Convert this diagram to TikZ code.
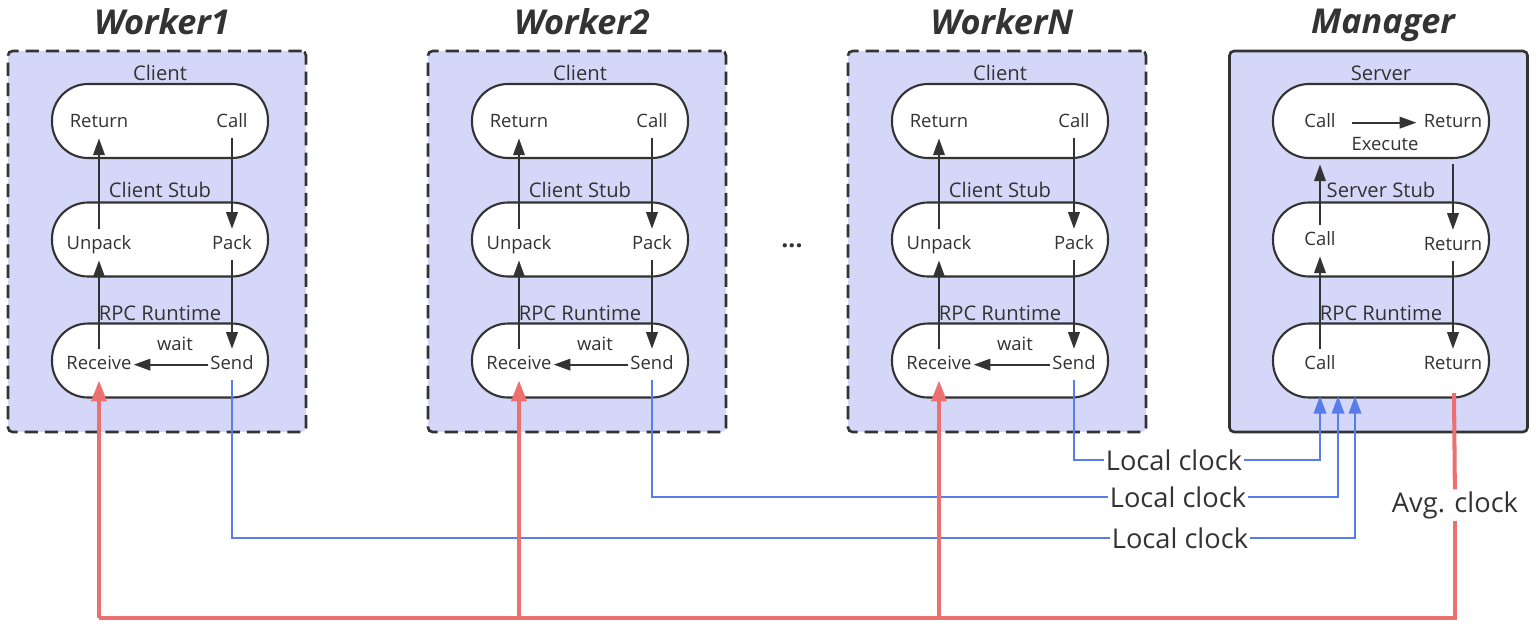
\documentclass[tikz,border=0pt]{standalone}
\usepackage{fontspec}
\setmainfont{Open Sans}
\usepackage{tikz}
\usetikzlibrary{calc}
\usetikzlibrary{arrows.meta}
\usetikzlibrary{positioning}
\definecolor{panelfill}{RGB}{212,215,248}
\definecolor{ink}{RGB}{51,51,51}
\definecolor{clkblue}{RGB}{88,124,234}
\definecolor{clkred}{RGB}{236,112,112}
\tikzset{inv/.style={opacity=0}}

\begin{document}
\begin{tikzpicture}[x=0.02cm, y=-0.02cm]
\tikzstyle{flow} = [-{Triangle[length=9.5pt,width=6.5pt]}, ink, line width=1.2pt]
\tikzstyle{bluel} = [clkblue, line width=1.5pt]
\tikzstyle{bluearr} = [bluel, -{Triangle[length=10pt,width=7pt]}]
\tikzstyle{redl} = [clkred, line width=2.3pt]
\tikzstyle{redarr} = [redl, -{Triangle[length=12pt,width=8.5pt]}]
\useasboundingbox (0,0) rectangle (1536,630);

\tikzset{panel/.style={draw=ink, line width=1.5pt, fill=panelfill, rounded corners=2.5pt, minimum width=5.96cm, minimum height=7.62cm}}
\tikzset{dpanel/.style={panel, dash pattern=on 7.5pt off 4pt}}
\tikzset{capsule/.style={draw=ink, line width=1.2pt, fill=white, rounded corners=0.72cm, minimum width=4.32cm, minimum height=1.48cm}}
\tikzset{item/.style={text=ink, font=\fontsize{10.5}{12}\selectfont, text height=7.5pt, text depth=2pt, inner xsep=1pt, inner ysep=4pt, yshift=-1.5pt}}
\tikzset{grp/.style={text=ink, font=\fontsize{11.5}{13}\selectfont, inner sep=1pt}}
\tikzset{ttl/.style={text=ink, font=\fontsize{19.5}{22}\selectfont\bfseries\itshape}}
\tikzset{clk/.style={text=ink, font=\fontsize{15.5}{18}\selectfont, fill=white, inner sep=1pt}}

\node[ttl] (t1) at (162,22) {Worker1};
\node[dpanel] (p1) at (157,241.5) {};
\node[capsule] (w1cl) at (160,121) {};
\node[capsule] (w1st) at (160,239.5) {};
\node[capsule] (w1rt) at (160,360.5) {};
\node[grp] at (160,73) {Client};
\node[grp] at (160,190) {Client Stub};
\node[grp] at (160,313) {RPC Runtime};
\node[item] (w1ret) at (99,120) {Return};
\node[item] (w1call) at (232,120) {Call};
\node[item] (w1unp) at (99,242) {Unpack};
\node[item] (w1pack) at (232,242) {Pack};
\node[item] (w1recv) at (99,362) {Receive};
\node[item] (w1send) at (232,362) {Send};
\node[item] at (175,343) {wait};
\draw[flow] (w1call) -- (w1pack);
\draw[flow] (w1pack) -- (w1send);
\draw[flow] (w1unp) -- (w1ret);
\draw[flow] (w1recv) -- (w1unp);
\draw[flow] (w1send) -- (w1recv);

\node[ttl] (t2) at (582,22) {Worker2};
\node[dpanel] (p2) at (577,241.5) {};
\node[capsule] (w2cl) at (580,121) {};
\node[capsule] (w2st) at (580,239.5) {};
\node[capsule] (w2rt) at (580,360.5) {};
\node[grp] at (580,73) {Client};
\node[grp] at (580,190) {Client Stub};
\node[grp] at (580,313) {RPC Runtime};
\node[item] (w2ret) at (519,120) {Return};
\node[item] (w2call) at (652,120) {Call};
\node[item] (w2unp) at (519,242) {Unpack};
\node[item] (w2pack) at (652,242) {Pack};
\node[item] (w2recv) at (519,362) {Receive};
\node[item] (w2send) at (652,362) {Send};
\node[item] at (595,343) {wait};
\draw[flow] (w2call) -- (w2pack);
\draw[flow] (w2pack) -- (w2send);
\draw[flow] (w2unp) -- (w2ret);
\draw[flow] (w2recv) -- (w2unp);
\draw[flow] (w2send) -- (w2recv);

\node[text=ink, font=\fontsize{14}{16}\selectfont\bfseries] (dots) at (792,246) {...};

\node[ttl] (tN) at (1002,22) {WorkerN};
\node[dpanel] (pN) at (997,241.5) {};
\node[capsule] (wNcl) at (1000,121) {};
\node[capsule] (wNst) at (1000,239.5) {};
\node[capsule] (wNrt) at (1000,360.5) {};
\node[grp] at (1000,73) {Client};
\node[grp] at (1000,190) {Client Stub};
\node[grp] at (1000,313) {RPC Runtime};
\node[item] (wNret) at (939,120) {Return};
\node[item] (wNcall) at (1074,120) {Call};
\node[item] (wNunp) at (939,242) {Unpack};
\node[item] (wNpack) at (1074,242) {Pack};
\node[item] (wNrecv) at (939,362) {Receive};
\node[item] (wNsend) at (1074,362) {Send};
\node[item] at (1015,343) {wait};
\draw[flow] (wNcall) -- (wNpack);
\draw[flow] (wNpack) -- (wNsend);
\draw[flow] (wNunp) -- (wNret);
\draw[flow] (wNrecv) -- (wNunp);
\draw[flow] (wNsend) -- (wNrecv);

\node[ttl] (tm) at (1383,25) {Manager};
\node[panel] (pm) at (1378.5,241.5) {};
\node[capsule] (msv) at (1381,121) {};
\node[capsule] (mst) at (1381,239.5) {};
\node[capsule] (mrt) at (1381,360.5) {};
\node[grp] at (1381,73) {Server};
\node[grp] at (1381,190) {Server Stub};
\node[grp] at (1381,313) {RPC Runtime};
\node[item] (msvcall) at (1320,120) {Call};
\node[item] (msvret) at (1453,120) {Return};
\node[item, inner sep=0pt] at (1385,143) {Execute};
\node[item] (mscall) at (1320,238) {Call};
\node[item] (msret) at (1453,243) {Return};
\node[item] (mrcall) at (1320,362) {Call};
\node[item] (mrret) at (1453,362) {Return};
\draw[flow, shorten <=8pt, shorten >=3pt] (msvcall) -- (msvret);
\draw[flow, shorten >=3pt] (mscall) -- (mscall |- msv.south);
\draw[flow, shorten <=3pt] (msvret |- msv.south) -- (msret);
\draw[flow] (mrcall) -- (mscall);
\draw[flow] (msret) -- (mrret);

\node[clk] (lcN) at (1174,460) {Local clock};
\node[clk] (lc2) at (1178,497) {Local clock};
\node[clk] (lc1) at (1180,538) {Local clock};
\node[clk] (avg) at (1455,505) {Avg. clock};
\coordinate (inN) at (1320,396);
\coordinate (in2) at (1338,396);
\coordinate (in1) at (1355,396);
\coordinate (mout) at (1454,393);
\coordinate (rc) at (99,618);

\draw[bluel] (w1send) |- (lc1);
\draw[bluearr] (lc1) -| (in1);
\draw[bluel] (w2send) |- (lc2);
\draw[bluearr] (lc2) -| (in2);
\draw[bluel] (wNsend) |- (lcN);
\draw[bluearr] (lcN) -| (inN);

\draw[redl] (mout) -- (avg);
\draw[redl] (avg) |- (rc);
\draw[redarr] (rc) -- (w1recv);
\draw[redarr] (w2recv |- rc) -- (w2recv);
\draw[redarr] (wNrecv |- rc) -- (wNrecv);
\end{tikzpicture}
\end{document}
